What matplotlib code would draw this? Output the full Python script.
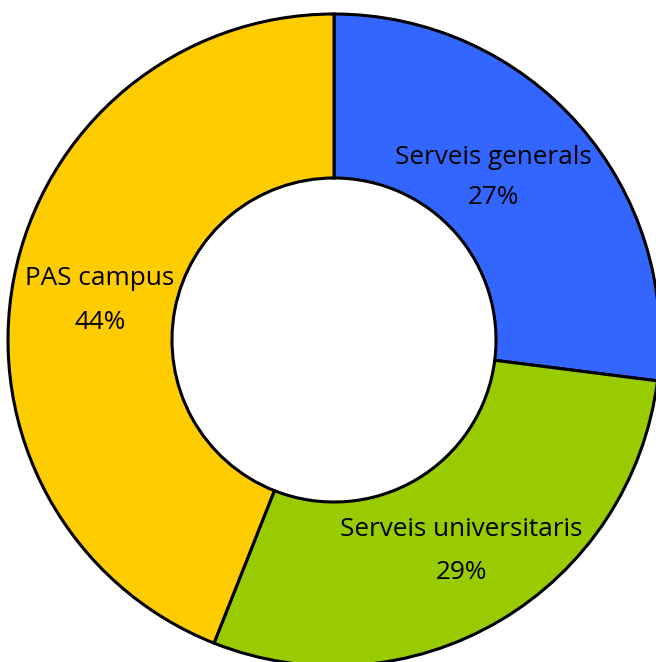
import matplotlib
matplotlib.use("Agg")
import matplotlib.pyplot as plt

categories = ["Serveis generals", "Serveis universitaris", "PAS campus"]
values = [27, 29, 44]
colors = ["#3366FF", "#99CC00", "#FFCC00"]

label_pos = [(0.490, 0.561, 0.436), (0.390, -0.580, -0.712), (-0.718, 0.190, 0.055)]

fam = "Open Sans"

fig = plt.figure(figsize=(6.56, 6.62), dpi=100)
ax = fig.add_axes([0, 0, 1, 1])
ax.pie(values, colors=colors, startangle=90, counterclock=False,
       radius=1.0, wedgeprops=dict(width=0.503, edgecolor="black", linewidth=2.2))
ax.set_xlim(-334/326, (656-334)/326)
ax.set_ylim(-322/326, 340/326)
ax.set_aspect("equal")
ax.axis("off")
for cat, v, (x, y1, y2) in zip(categories, values, label_pos):
    ax.text(x, y1, cat, ha="center", va="center", fontsize=18.8, family=fam)
    ax.text(x, y2, f"{v}%", ha="center", va="center", fontsize=18.8, family=fam)
fig.savefig("out.png", dpi=100)
